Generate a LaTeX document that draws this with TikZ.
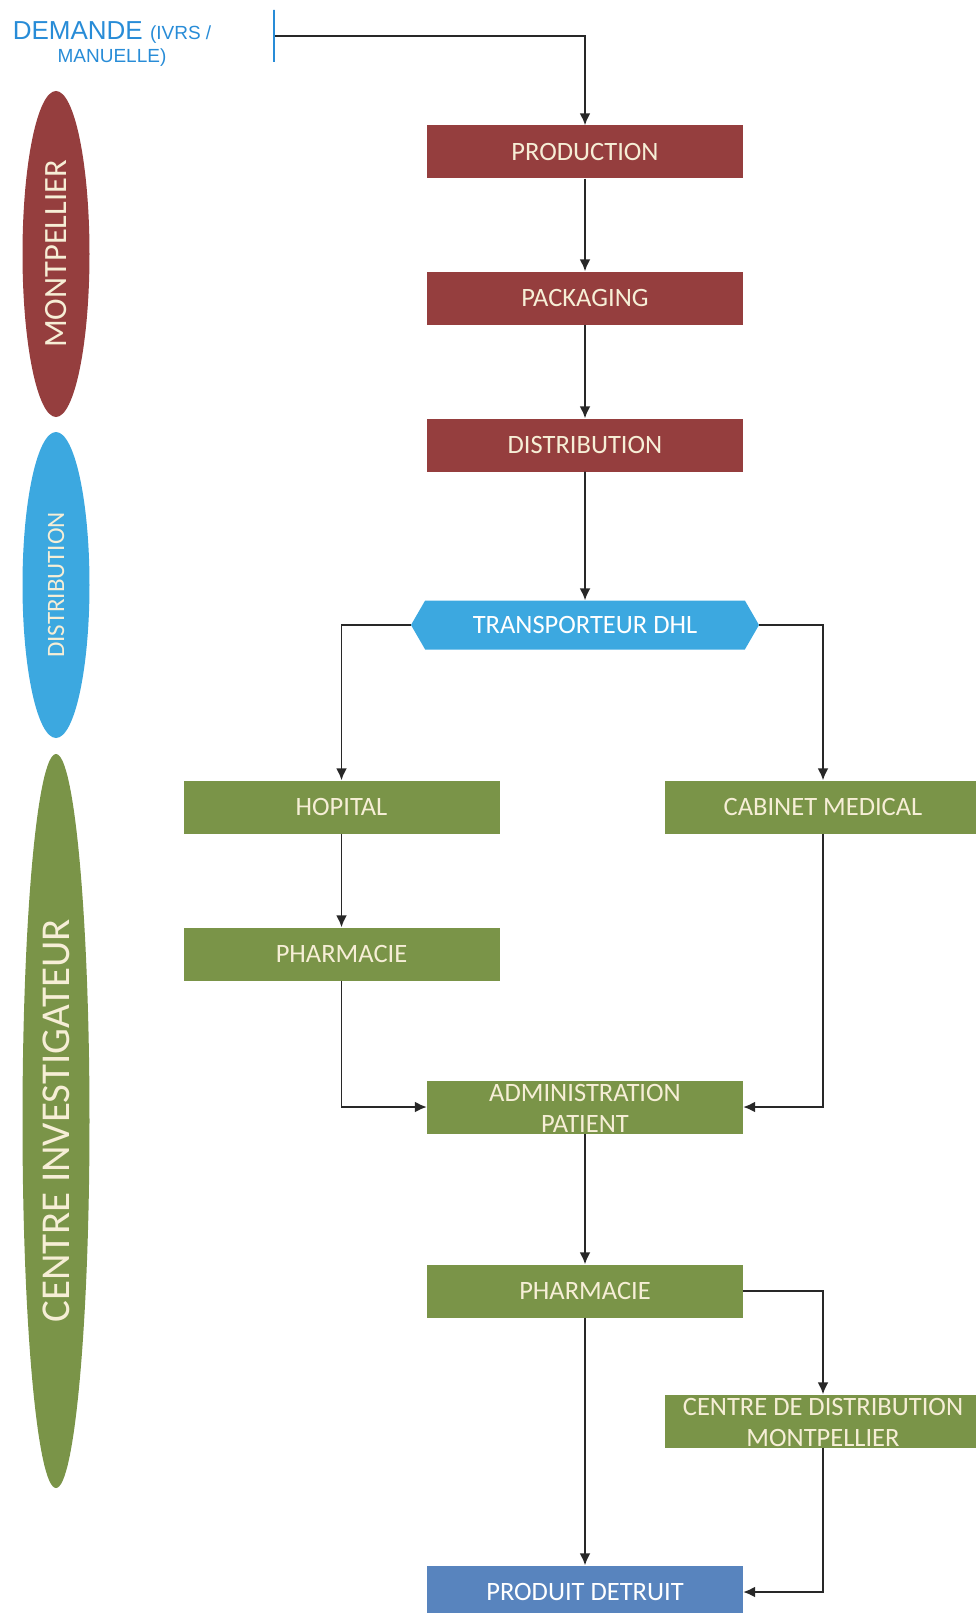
\documentclass[tikz,border=0pt]{standalone}
\usepackage{fontspec}
\setmainfont{Carlito}
\newfontfamily\demfont{Liberation Sans}
\usetikzlibrary{shapes.geometric,shapes.symbols,arrows.meta}
\definecolor{boxred}{RGB}{149,62,62}
\definecolor{boxgreen}{RGB}{122,148,72}
\definecolor{boxblue}{RGB}{60,168,224}
\definecolor{endblue}{RGB}{88,132,190}
\definecolor{boxtext}{RGB}{246,238,214}
\definecolor{demblue}{RGB}{40,140,215}
\definecolor{edgegray}{RGB}{40,40,40}
\begin{document}
\begin{tikzpicture}[x=1pt,y=-1pt]
    \tikzset{box/.style = {minimum width=316pt,minimum height=53pt,inner sep=0pt,text=boxtext,font=\fontsize{26.5}{31}\selectfont}, edge/.style = {line width=1.9pt,draw=edgegray,-{Latex[length=12pt,width=11pt]}}, zone/.style = {shape=ellipse,rotate=90,minimum height=67pt,inner sep=0pt,text=boxtext}}
    \def\x{585}
    \def\xl{341.5}
    \def\xr{823}
    \useasboundingbox (0,0) rectangle (975,1613);
     \node[text=demblue,align=center,font=\demfont\fontsize{26}{24}\selectfont] (P) at (112,44) {DEMANDE {\fontsize{19}{20}\selectfont(IVRS /}\\[-1pt]{\fontsize{19}{20}\selectfont MANUELLE)}};
     \node[draw=demblue,line width=2pt,minimum width=0pt,minimum height=52pt,inner sep=0pt] (Q) at (274,36) {};

     \node[zone,fill=boxred,minimum width=326pt,font=\fontsize{32.5}{36}\selectfont] (L) at (56,254) {MONTPELLIER};
     \node[zone,fill=boxblue,minimum width=306pt,font=\fontsize{25}{30}\selectfont] (M) at (56,585) {DISTRIBUTION};
     \node[zone,fill=boxgreen,minimum width=734pt,font=\fontsize{41}{44}\selectfont] (N) at (56,1121) {CENTRE INVESTIGATEUR};

     \node[box,fill=boxred] (A) at (\x,152) {PRODUCTION};
     \node[box,fill=boxred] (B) at (\x,298) {PACKAGING};
     \node[box,fill=boxred] (C) at (\x,445) {DISTRIBUTION};
     \node[box,fill=boxblue,text=white,shape=signal,signal to=west and east,signal pointer angle=120,minimum width=348pt,minimum height=49pt] (D) at (\x,625) {TRANSPORTEUR DHL};
     \node[box,fill=boxgreen] (E) at (\xl,807) {HOPITAL};
     \node[box,fill=boxgreen] (F) at (\xr,807) {CABINET MEDICAL};
     \node[box,fill=boxgreen] (G) at (\xl,954) {PHARMACIE};
     \node[box,fill=boxgreen] (H) at (\x,1107) {\smash{\raisebox{-25pt}{\begin{tabular}[b]{@{}c@{}}ADMINISTRATION\\PATIENT\end{tabular}}}};
     \node[box,fill=boxgreen] (I) at (\x,1291) {PHARMACIE};
     \node[box,fill=boxgreen] (J) at (\xr,1421) {\smash{\raisebox{-25pt}{\begin{tabular}[b]{@{}c@{}}CENTRE DE DISTRIBUTION\\MONTPELLIER\end{tabular}}}};
     \node[box,fill=endblue,text=white] (K) at (\x,1592) {PRODUIT DETRUIT};

    \draw[edge](Q.east) -| (A.north);
    \draw[edge](A) --(B);
    \draw[edge](B) --(C);
    \draw[edge](C) --(D);
    \draw[edge](D.west) -| (E.north);
    \draw[edge](D.east) -| (F.north);
    \draw[edge](E) --(G);
    \draw[edge](G.south) |- (H.west);
    \draw[edge](F.south) |- (H.east);
    \draw[edge](H) --(I);
    \draw[edge](I.east) -| (J.north);
    \draw[edge](I) --(K);
    \draw[edge](J.south) |- (K.east);
\end{tikzpicture}
\end{document}
